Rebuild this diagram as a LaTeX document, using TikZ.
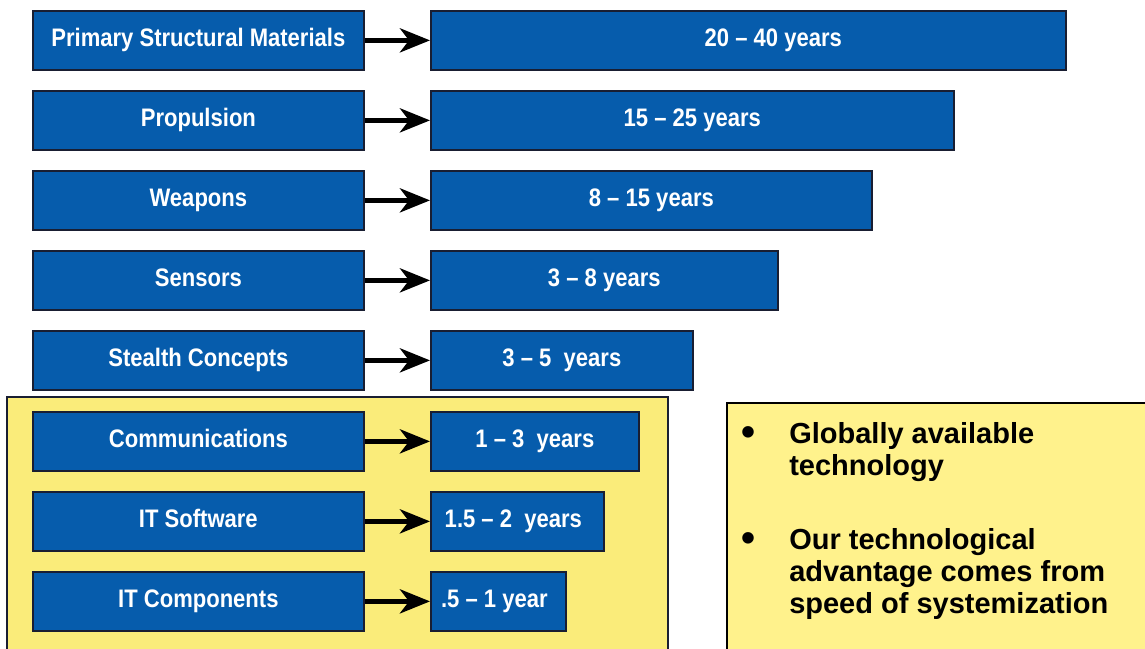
\documentclass[tikz,border=0pt]{standalone}
\usepackage{fontspec}
\setmainfont{Liberation Sans}
\newfontfamily\narrowfont[FakeStretch=0.87]{Liberation Sans}
\usetikzlibrary{arrows.meta}
\definecolor{boxblue}{RGB}{6,92,172}
\definecolor{boxborder}{RGB}{25,30,50}
\definecolor{yellowA}{RGB}{250,236,122}
\definecolor{yellowB}{RGB}{255,242,140}
\begin{document}
\begin{tikzpicture}[x=0.75pt,y=-0.75pt,
  bluebox/.style={draw=boxborder,line width=1.3pt,fill=boxblue,text=white,
    rectangle,anchor=north west,minimum height=59*0.75pt,inner sep=0pt,
    text height=15pt,text depth=6.5pt,
    font=\narrowfont\bfseries\fontsize{19pt}{22pt}\selectfont},
  leftbox/.style={bluebox,minimum width=331*0.75pt},
  conn/.style={line width=5*0.75pt,draw=black,
    -{Stealth[length=30*0.75pt,width=24*0.75pt,inset=9*0.75pt]}},
  bullettext/.style={anchor=base west,inner sep=0pt,
    font=\bfseries\fontsize{21.75pt}{24pt}\selectfont},
  bulletmark/.style={anchor=center,inner sep=0pt,
    font=\bfseries\fontsize{30pt}{30pt}\selectfont}]
\useasboundingbox (0,0) rectangle (1145,649);
\fill[white] (0,0) rectangle (1145,649);
% yellow backgrounds
\draw[fill=yellowA,draw=boxborder,line width=1.3pt] (7,397) rectangle (668,670);
\draw[fill=yellowB,draw=black,line width=1.1pt] (727,403) rectangle (1160,670);
% left boxes
\node[leftbox] (L1) at (32,10) {Primary Structural Materials};
\node[leftbox] (L2) at (32,90) {Propulsion};
\node[leftbox] (L3) at (32,170) {Weapons};
\node[leftbox] (L4) at (32,250) {Sensors};
\node[leftbox] (L5) at (32,330) {Stealth Concepts};
\node[leftbox] (L6) at (32,411) {Communications};
\node[leftbox] (L7) at (32,491) {IT Software};
\node[leftbox] (L8) at (32,571) {IT Components};
% right boxes
\node[bluebox,minimum width=635*0.75pt] (R1) at (430,10) {\hspace*{37.5pt}20 – 40 years};
\node[bluebox,minimum width=523*0.75pt] (R2) at (430,90) {15 – 25 years};
\node[bluebox,minimum width=441*0.75pt] (R3) at (430,170) {8 – 15 years};
\node[bluebox,minimum width=347*0.75pt] (R4) at (430,250) {3 – 8 years};
\node[bluebox,minimum width=262*0.75pt] (R5) at (430,330) {3 – 5\ \ years};
\node[bluebox,minimum width=208*0.75pt] (R6) at (430,411) {1 – 3\ \ years};
\node[bluebox,minimum width=173*0.75pt] (R7) at (430,491) {1.5 – 2\ \ years\hspace*{6pt}};
\node[bluebox,minimum width=135*0.75pt] (R8) at (430,571) {.5 – 1 year\hspace*{6pt}};
% connectors
\foreach \i in {1,...,8} {\draw[conn] (L\i.east) -- (R\i.west);}
% bullets
\node[bulletmark] (b1) at (748,436) {•};
\node[bullettext] (t1) at (789,443) {Globally available};
\node[bullettext] (t2) at (789,475) {technology};
\node[bulletmark] (b2) at (748,542) {•};
\node[bullettext] (t3) at (789,549) {Our technological};
\node[bullettext] (t4) at (789,581) {advantage comes from};
\node[bullettext] (t5) at (789,613) {speed of systemization};
\end{tikzpicture}
\end{document}
